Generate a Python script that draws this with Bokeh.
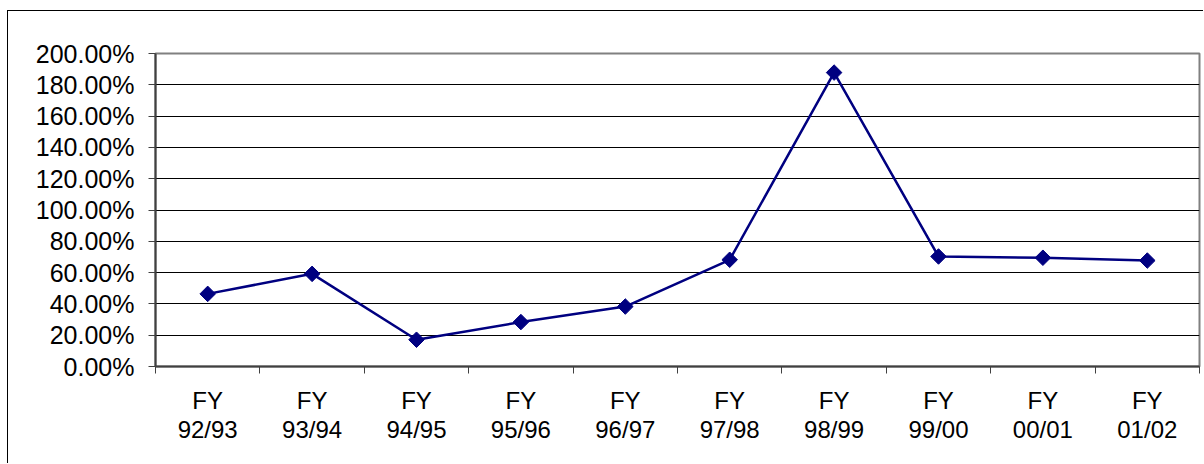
from bokeh.plotting import figure
from bokeh.models import ColumnDataSource, FixedTicker, NumeralTickFormatter, Range1d
from bokeh.embed import file_html
from bokeh.resources import INLINE
import numpy as np

# Fiscal years and yearly percentage values (as fractions)
years = ["92/93", "93/94", "94/95", "95/96", "96/97",
         "97/98", "98/99", "99/00", "00/01", "01/02"]
values = [0.464, 0.592, 0.171, 0.284, 0.383,
          0.682, 1.878, 0.703, 0.695, 0.677]
y_ticks = [0.0, 0.2, 0.4, 0.6, 0.8, 1.0, 1.2, 1.4, 1.6, 1.8, 2.0]

n = len(years)
centers = [i + 0.5 for i in range(n)]
bounds = list(range(n + 1))

src = ColumnDataSource(dict(x=centers, y=values))

p = figure(width=1196, height=453, output_backend="svg", toolbar_location=None,
           x_range=Range1d(0, n), y_range=Range1d(0, 2.0),
           min_border_left=147, min_border_right=5,
           min_border_top=42, min_border_bottom=98)
p.margin = (10, 0, 0, 7)
p.styles = {"border-top": "1px solid #000000", "border-left": "1px solid #000000"}

p.background_fill_color = "white"
p.border_fill_color = "white"
p.outline_line_color = "#808080"
p.outline_line_width = 2

FONT = "Liberation Sans"

# y axis
yax = p.yaxis[0]
yax.ticker = FixedTicker(ticks=y_ticks)
yax.formatter = NumeralTickFormatter(format="0.00%")
yax.major_label_text_font = FONT
yax.major_label_text_font_size = "25px"
yax.major_label_text_color = "#000000"
yax.major_label_standoff = 14
yax.major_tick_out = 7
yax.major_tick_in = 0
yax.minor_tick_out = 0
yax.minor_tick_in = 0
yax.axis_line_color = "#404040"
yax.axis_line_width = 2
yax.major_tick_line_color = "#404040"

# x axis: labels at category centers, ticks at category boundaries
xax = p.xaxis[0]
xax.ticker = FixedTicker(ticks=centers, minor_ticks=bounds)
xax.major_label_overrides = {c: "FY\n" + y for c, y in zip(centers, years)}
xax.major_label_text_font = FONT
xax.major_label_text_font_size = "24px"
xax.major_label_text_color = "#000000"
xax.major_label_text_line_height = 1.1
xax.major_label_standoff = 13
xax.major_tick_out = 0
xax.major_tick_in = 0
xax.minor_tick_out = 7
xax.minor_tick_in = 0
xax.minor_tick_line_color = "#404040"
xax.axis_line_color = "#404040"
xax.axis_line_width = 2

p.xgrid.grid_line_color = None
p.ygrid.ticker = FixedTicker(ticks=y_ticks)
p.ygrid.grid_line_color = "#000000"
p.ygrid.grid_line_width = 1

p.line("x", "y", source=src, line_color="#000080", line_width=2.5)
p.scatter("x", "y", source=src, marker="square", size=11, angle=np.pi / 4,
          fill_color="#000080", line_color="#000080")

open("out.html", "w").write(file_html(p, INLINE))
